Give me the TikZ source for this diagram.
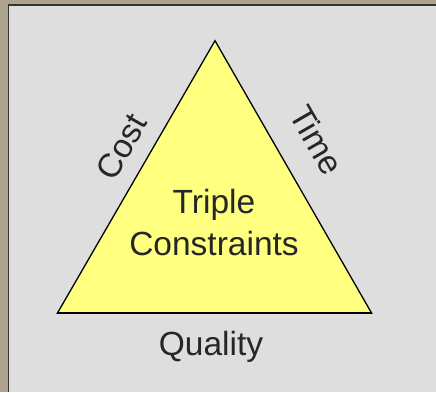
\documentclass[tikz,border=0pt]{standalone}
\usepackage{fontspec}
\setmainfont{Liberation Sans}
\usepackage{tikz}
\usetikzlibrary{calc}

\definecolor{marble}{HTML}{ADA28D}
\definecolor{panelgrey}{HTML}{DEDEDE}
\definecolor{trifill}{HTML}{FFFF80}

\begin{document}
\begin{tikzpicture}[x=1pt, y=1pt,
    label text/.style={font=\fontsize{33.5}{42}\selectfont, text=black!85, inner sep=0pt}]
      \useasboundingbox (0,0) rectangle (436,392);
      \fill[marble] (0,0) rectangle (436,392);
      \fill[panelgrey] (8.5,0) rectangle (436,387);
      \draw[line width=1.6pt, black!80] (8.5,0) |- (436,387);

      \coordinate (apex) at (215, 351.3);
      \coordinate (bl) at (57.3, 78.7);
      \coordinate (br) at (371.7, 78.7);
      \draw[line width=1.3pt, fill=trifill] (bl) -- (apex) -- (br) -- cycle;
      \draw[line width=1.8pt] (bl) -- (br);

      \path (bl) -- (apex) node[label text, pos=0.56, sloped, yshift=28pt] (cost) {Cost};
      \path (apex) -- (br) node[label text, pos=0.435, sloped, yshift=39pt] (time) {Time};
      \node[label text, align=center] (triple) at (214, 169) {Triple\\Constraints};
      \node[label text] (quality) at (211, 45) {Quality};
  \end{tikzpicture}
\end{document}
